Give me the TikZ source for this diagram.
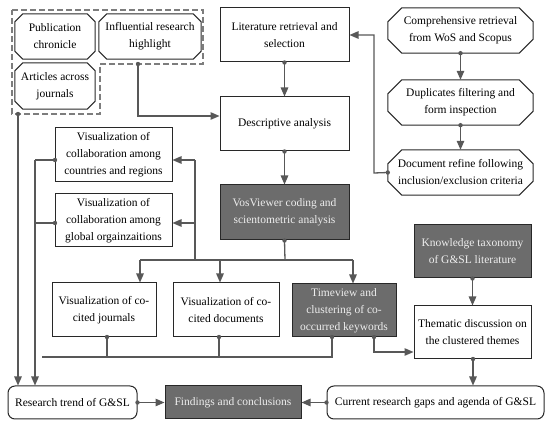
\documentclass[tikz,border=0pt]{standalone}
\usepackage{fontspec}
\setmainfont{Liberation Serif}
\usetikzlibrary{arrows.meta,calc}
\definecolor{darkfill}{RGB}{108,108,108}
\definecolor{linec}{RGB}{88,88,88}
\definecolor{dashc}{RGB}{125,125,125}
\definecolor{edgec}{RGB}{40,40,40}
\begin{document}
\begin{tikzpicture}[x=1pt,y=-1pt,
  every node/.style={font=\rmfamily\fontsize{11.5}{17}\selectfont, align=center, inner sep=1pt},
  box/.style={draw=edgec, line width=1pt, fill=white, rectangle},
  dbox/.style={box, fill=darkfill, text=white!93!black},
  octbox/.style={rectangle},
  octline/.style={draw=edgec, line width=1pt},
  rbox/.style={box, rounded corners=7pt},
  conn/.style={draw=linec, line width=1.3pt},
  arr/.style={conn, -{Triangle[length=9pt,width=7.5pt]}},
  dot/.style={fill=linec},
  grp/.style={draw=dashc, line width=1.3pt, dash pattern=on 6pt off 3pt}
]
\fill[white] (0,0) rectangle (550,427);
\useasboundingbox (0,0) rectangle (550,427);

% dashed group
\draw[grp] (12,10) -- (203,10) -- (203,64) -- (100,64) -- (100,114) -- (12,114) -- cycle;

% left octagons
\node[octbox, minimum width=80pt, minimum height=45pt] (pub) at (55,36.5) {Publication\\chronicle};
\node[octbox, minimum width=102pt, minimum height=45pt] (infl) at (150,36.5) {Influential research\\highlight};
\node[octbox, minimum width=80pt, minimum height=46pt] (art) at (55,86) {Articles across\\journals};

% central column
\node[box, minimum width=129pt, minimum height=54pt] (lit) at (284.5,35) {Literature retrieval and\\selection};
\node[box, minimum width=129pt, minimum height=54pt] (desc) at (284.5,124) {Descriptive analysis};
\node[dbox, minimum width=129pt, minimum height=55pt] (vos) at (284.5,212.5) {VosViewer coding and\\scientometric analysis};

% right octagons
\node[octbox, minimum width=145pt, minimum height=45pt] (comp) at (460.5,30.5) {Comprehensive retrieval\\from WoS and Scopus};
\node[octbox, minimum width=145pt, minimum height=45pt] (dup) at (460.5,102.5) {Duplicates filtering and\\form inspection};
\node[octbox, minimum width=145pt, minimum height=45pt] (docref) at (460.5,172.5) {Document refine following\\inclusion/exclusion criteria};

\foreach \n/\c in {pub/8,infl/8,art/8,comp/14,dup/14,docref/14}
  \draw[octline] ($(\n.north west)+(\c,0)$) -- ($(\n.north east)+(-\c,0)$) -- ($(\n.north east)+(0,\c)$) -- ($(\n.south east)+(0,-\c)$) -- ($(\n.south east)+(-\c,0)$) -- ($(\n.south west)+(\c,0)$) -- ($(\n.south west)+(0,-\c)$) -- ($(\n.north west)+(0,\c)$) -- cycle;

% collaboration
\node[box, minimum width=117pt, minimum height=54pt] (colc) at (113.5,155) {Visualization of\\collaboration among\\countries and regions};
\node[box, minimum width=117pt, minimum height=53pt] (colg) at (113.5,220.5) {Visualization of\\collaboration among\\global orgainzaitions};

% row
\node[box, minimum width=104pt, minimum height=54pt] (cj) at (104,310) {Visualization of co-\\cited journals};
\node[box, minimum width=106pt, minimum height=54pt] (cd) at (226,310) {Visualization of co-\\cited documents};
\node[dbox, minimum width=104pt, minimum height=53pt] (tv) at (344,310.5) {Timeview and\\clustering of co-\\occurred keywords};
\node[dbox, minimum width=117pt, minimum height=53pt] (kt) at (472.5,251.5) {Knowledge taxonomy\\of G\&SL literature};
\node[box, minimum width=117pt, minimum height=53pt] (th) at (472.5,332.5) {Thematic discussion on\\the clustered themes};

% bottom
\node[rbox, minimum width=129pt, minimum height=33pt] (rt) at (72.5,402.5) {Research trend of G\&SL};
\node[dbox, minimum width=136pt, minimum height=33pt] (fc) at (233,402.5) {Findings and conclusions};
\node[rbox, minimum width=217pt, minimum height=33pt] (cg) at (435.5,402.5) {Current research gaps and agenda of G\&SL};

% coordinates
\coordinate (ia) at (138,64);
\coordinate (ib) at (138,116);
\coordinate (aa) at (18,114);
\coordinate (dr) at (374,173);
\coordinate (bus) at (285,260);
\coordinate (b1) at (140,260);
\coordinate (b2) at (220,260);
\coordinate (b3) at (353,260);
\coordinate (cv) at (195,260);
\coordinate (cvc) at (195,160);
\coordinate (cvg) at (195,223);
\coordinate (lc) at (55,160);
\coordinate (lg) at (55,223);
\coordinate (lv) at (35,160);
\coordinate (lvg) at (35,223);
\coordinate (bl) at (42,357);
\coordinate (s1) at (107,337);
\coordinate (s2) at (219,337);
\coordinate (s3) at (332,337);
\coordinate (t4) at (374,337);
\coordinate (t5) at (374,352);
\coordinate (thb) at (473,359);

% connectors
\draw[arr] (ia) -- (ib) -- (ib -| desc.west);
\draw[arr] (aa) -- (aa |- rt.north);
\draw[arr] (lit.south) -- (desc.north);
\draw[arr] (desc.south) -- (vos.north);
\draw[arr] (comp.south) -- (dup.north);
\draw[arr] (dup.south) -- (docref.north);
\draw[arr] (docref.west) -- (dr) -- (dr |- lit.east) -- (lit.east);
\draw[conn] (vos.south) -- (bus);
\draw[conn] (b1) -- (b3);
\draw[arr] (b1) -- (b1 |- cj.north);
\draw[arr] (b2) -- (b2 |- cd.north);
\draw[arr] (b3) -- (b3 |- tv.north);
\draw[conn] (cv) -- (cvc);
\draw[arr] (cvc) -- (cvc -| colc.east);
\draw[arr] (cvg) -- (cvg -| colg.east);
\draw[conn] (lc) -- (lv);
\draw[conn] (lg) -- (lvg);
\draw[arr] (lv) -- (lv |- rt.north);
\draw[conn] (s1) -- (s1 |- bl);
\draw[conn] (s2) -- (s2 |- bl);
\draw[conn] (s3) -- (s3 |- bl) -- (bl);
\draw[arr] (t4) -- (t5) -- (t5 -| th.west);
\draw[arr] (kt.south) -- (th.north);
\draw[arr] (thb) -- (thb |- cg.north);
\draw[arr] (rt.east) -- (fc.west);
\draw[arr] (cg.west) -- (fc.east);

% dots
\foreach \p in {ia, aa, lit.south, desc.south, comp.south, dup.south, docref.west, vos.south, lc, lg, s1, s2, s3, t4, kt.south, thb, rt.east, cg.west}
  \fill[dot] (\p) circle (2.2pt);
\end{tikzpicture}
\end{document}
